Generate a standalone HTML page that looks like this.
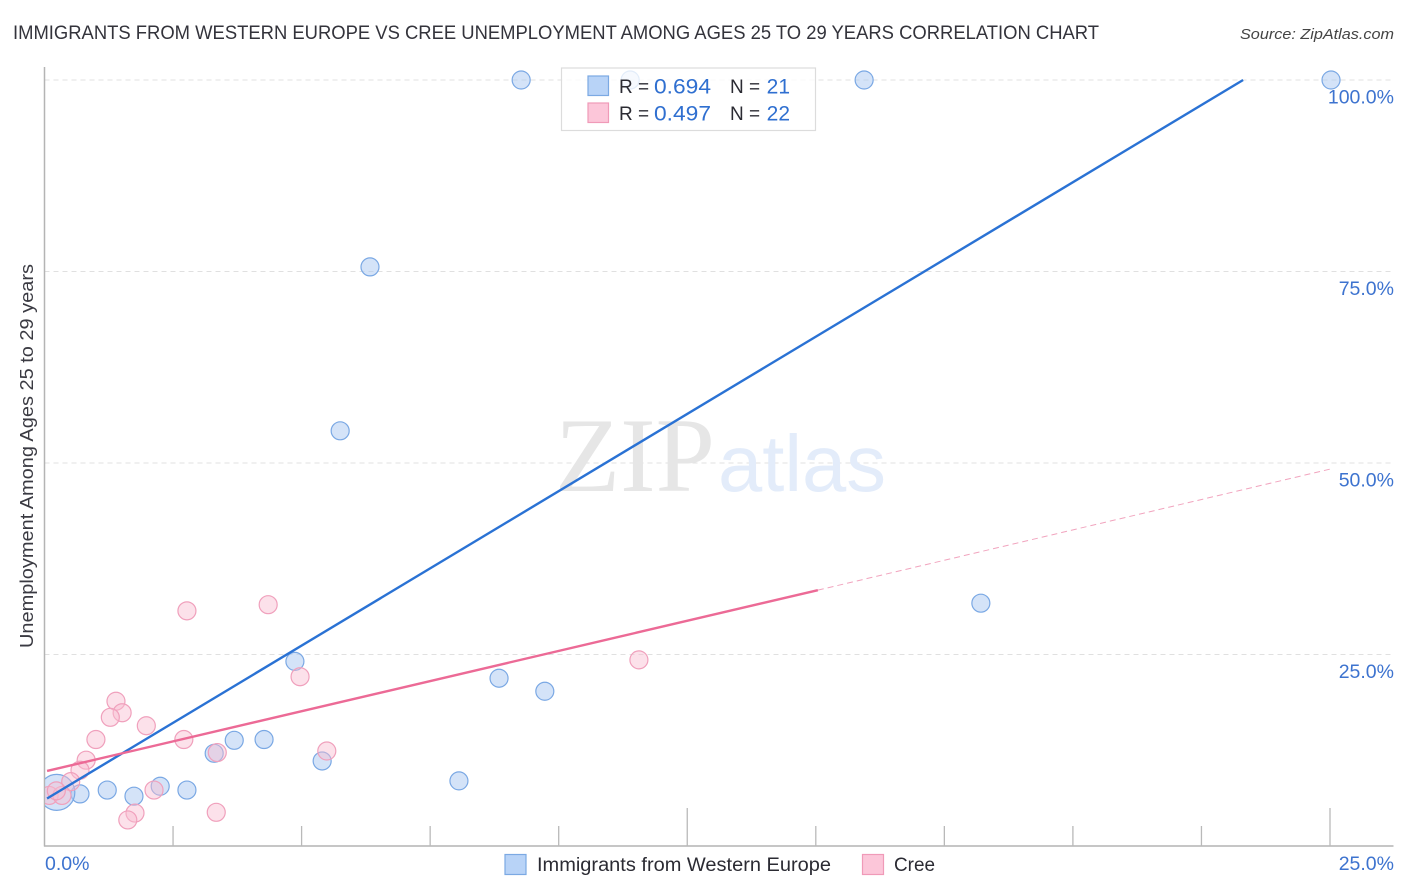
<!DOCTYPE html>
<html lang="en">
<head>
<meta charset="utf-8">
<title>Immigrants from Western Europe vs Cree Unemployment Correlation Chart</title>
<style>
html,body{margin:0;padding:0;background:#fff;width:1406px;height:892px;overflow:hidden}
svg{display:block;font-family:"Liberation Sans",sans-serif}
</style>
</head>
<body>
<svg id="chart" width="1406" height="892" viewBox="0 0 1406 892" xmlns="http://www.w3.org/2000/svg">
  <defs>
    <clipPath id="plot-clip"><rect x="45" y="60" width="1348" height="786"/></clipPath>
  </defs>
  <rect x="0" y="0" width="1406" height="892" fill="#ffffff"/>
  <text x="13" y="39" font-size="19" fill="#33333b" textLength="1086" lengthAdjust="spacingAndGlyphs">IMMIGRANTS FROM WESTERN EUROPE VS CREE UNEMPLOYMENT AMONG AGES 25 TO 29 YEARS CORRELATION CHART</text>
  <text x="1394" y="39" font-size="15" font-style="italic" fill="#444" text-anchor="end" textLength="154" lengthAdjust="spacingAndGlyphs">Source: ZipAtlas.com</text>

  <g id="grid"></g>

  <g>
    <text x="555" y="491" font-family="'Liberation Serif',serif" font-size="106" fill="#e6e6e6" textLength="160" lengthAdjust="spacingAndGlyphs">ZIP</text>
    <text x="718" y="491" font-size="80" fill="#e3ecfa" textLength="168" lengthAdjust="spacingAndGlyphs">atlas</text>
  </g>

  <g id="axes"></g>
  <g id="points-blue" clip-path="url(#plot-clip)"></g>
  <g id="points-pink" clip-path="url(#plot-clip)"></g>
  <g id="trends"></g>
  <g id="labels"></g>

  <text transform="translate(33,456) rotate(-90)" font-size="18" fill="#3a3a42" text-anchor="middle" textLength="384" lengthAdjust="spacingAndGlyphs">Unemployment Among Ages 25 to 29 years</text>

  <g>
    <rect x="561.500" y="68" width="254" height="62.500" fill="#ffffff" fill-opacity="0.78" stroke="#dcdcdc" stroke-width="1.200"/>
    <rect x="588" y="76" width="20.500" height="19.500" fill="#b8d3f7" stroke="#7ba9e3" stroke-width="1.200"/>
    <rect x="588" y="103" width="20.500" height="19.500" fill="#fcc6d9" stroke="#f09ab8" stroke-width="1.200"/>
    <text x="619" y="93" font-size="19" fill="#2b2b33">R =</text>
    <text x="654" y="93.500" font-size="21" fill="#2f6fd0" textLength="57" lengthAdjust="spacingAndGlyphs">0.694</text>
    <text x="730" y="93" font-size="19" fill="#2b2b33">N =</text>
    <text x="790" y="93.500" font-size="21" fill="#2f6fd0" text-anchor="end">21</text>
    <text x="619" y="120" font-size="19" fill="#2b2b33">R =</text>
    <text x="654" y="120.500" font-size="21" fill="#2f6fd0" textLength="57" lengthAdjust="spacingAndGlyphs">0.497</text>
    <text x="730" y="120" font-size="19" fill="#2b2b33">N =</text>
    <text x="790" y="120.500" font-size="21" fill="#2f6fd0" text-anchor="end">22</text>
  </g>

  <g>
    <rect x="505" y="854.500" width="21" height="20" fill="#b8d3f7" stroke="#7ba9e3" stroke-width="1.200"/>
    <text x="537" y="871" font-size="19" fill="#2b2b33" textLength="294" lengthAdjust="spacingAndGlyphs">Immigrants from Western Europe</text>
    <rect x="862.500" y="854.500" width="21" height="20" fill="#fcc6d9" stroke="#f09ab8" stroke-width="1.200"/>
    <text x="894" y="871" font-size="19" fill="#2b2b33" textLength="41" lengthAdjust="spacingAndGlyphs">Cree</text>
  </g>
</svg>
<script>
// Data (x: percent of Immigrants from Western Europe, y: percent unemployment)
const blueX = [9.27, 11.39, 15.94, 25.02, 6.33, 5.75, 18.21, 4.87, 8.84, 9.73, 3.30, 3.69, 4.27, 5.40, 8.06, 2.25, 2.77, 1.74, 1.22, 0.69, 0.24];
const blueY = [100, 100, 100, 100, 75.6, 54.2, 31.7, 24.1, 21.9, 20.2, 12.1, 13.8, 13.9, 11.1, 8.5, 7.8, 7.3, 6.5, 7.3, 6.8, 7.0];
const blueR = [9, 9, 9, 9, 9, 9, 9, 9, 9, 9, 9, 9, 9, 9, 9, 9, 9, 9, 9, 9, 18];
const pinkX = [2.77, 4.35, 11.56, 4.97, 1.39, 1.51, 1.28, 1.98, 1.00, 2.71, 3.36, 5.49, 0.81, 0.69, 0.51, 2.13, 1.76, 1.62, 3.34, 0.09, 0.34, 0.23];
const pinkY = [30.7, 31.5, 24.3, 22.1, 18.9, 17.4, 16.8, 15.7, 13.9, 13.9, 12.2, 12.4, 11.2, 9.9, 8.4, 7.3, 4.3, 3.4, 4.4, 6.6, 6.6, 7.2];
const pinkR = [9, 9, 9, 9, 9, 9, 9, 9, 9, 9, 9, 9, 9, 9, 9, 9, 9, 9, 9, 9, 9, 9];
const blueTrendX = [0.05, 23.31];
const blueTrendY = [6.2, 100];
const pinkTrendX = [0.05, 15.04];
const pinkTrendY = [9.8, 33.4];
const pinkDashX = [15.04, 25.0];
const pinkDashY = [33.4, 49.2];
const yTicks = [25, 50, 75, 100];
const yTickLabels = ["25.0%", "50.0%", "75.0%", "100.0%"];
const xTicks = [2.5, 5, 7.5, 10, 12.5, 15, 17.5, 20, 22.5, 25];
const xMajorTicks = [12.5, 25];
const xEndLabels = ["0.0%", "25.0%"];

const NS = "http://www.w3.org/2000/svg";
const sx = v => 44.5 + v * 51.42;
const sy = v => 846 - v * 7.66;
function mk(tag, parent, attrs) {
  const el = document.createElementNS(NS, tag);
  for (const k in attrs) el.setAttribute(k, attrs[k]);
  document.getElementById(parent).appendChild(el);
  return el;
}

yTicks.forEach((t, i) => {
  const g = mk("line", "grid", {x1: 44.5, x2: 1393, y1: sy(t), y2: sy(t), stroke: "#e0e0e0", "stroke-width": 1, "stroke-dasharray": "5 4"});
  
  
  const l = mk("text", "labels", {x: 1394, y: sy(t) + 23.5, "font-size": 19.5, fill: "#3d73cf", "text-anchor": "end"});
  l.textContent = yTickLabels[i];
  
  
});

const yAxis = mk("line", "axes", {x1: 44.5, x2: 44.5, y1: 67, y2: 846.5, stroke: "#b4b4b4", "stroke-width": 1.5});


const xAxis = mk("line", "axes", {x1: 44, x2: 1393.5, y1: 846, y2: 846, stroke: "#b4b4b4", "stroke-width": 1.5});


xTicks.forEach(t => {
  const top = xMajorTicks.includes(t) ? 808 : 826;
  const m = mk("line", "axes", {x1: sx(t), x2: sx(t), y1: top, y2: 846, stroke: "#b9b9b9", "stroke-width": 1.3});
  
  
});

const lab0 = mk("text", "labels", {x: 45, y: 870, "font-size": 19.5, fill: "#3d73cf"});
lab0.textContent = xEndLabels[0];


const lab1 = mk("text", "labels", {x: 1394, y: 870, "font-size": 19.5, fill: "#3d73cf", "text-anchor": "end"});
lab1.textContent = xEndLabels[1];



blueX.forEach((x, i) => {
  const c = mk("circle", "points-blue", {cx: sx(x), cy: sy(blueY[i]), r: blueR[i], fill: "#a9c8f2", "fill-opacity": 0.5, stroke: "#7aa8e4", "stroke-width": 1.2});
  
  
});
pinkX.forEach((x, i) => {
  const c = mk("circle", "points-pink", {cx: sx(x), cy: sy(pinkY[i]), r: pinkR[i], fill: "#f9bcd0", "fill-opacity": 0.45, stroke: "#f0a0bc", "stroke-width": 1.2});
  
  
});

const tb = mk("line", "trends", {x1: sx(blueTrendX[0]), y1: sy(blueTrendY[0]), x2: sx(blueTrendX[1]), y2: sy(blueTrendY[1]), stroke: "#2a72d4", "stroke-width": 2.4});


const tp = mk("line", "trends", {x1: sx(pinkTrendX[0]), y1: sy(pinkTrendY[0]), x2: sx(pinkTrendX[1]), y2: sy(pinkTrendY[1]), stroke: "#ec6a96", "stroke-width": 2.4});


const td = mk("line", "trends", {x1: sx(pinkDashX[0]), y1: sy(pinkDashY[0]), x2: sx(pinkDashX[1]), y2: sy(pinkDashY[1]), stroke: "#ec86a8", "stroke-width": 1, "stroke-dasharray": "6 4", "stroke-opacity": 0.75});


</script>
</body>
</html>
